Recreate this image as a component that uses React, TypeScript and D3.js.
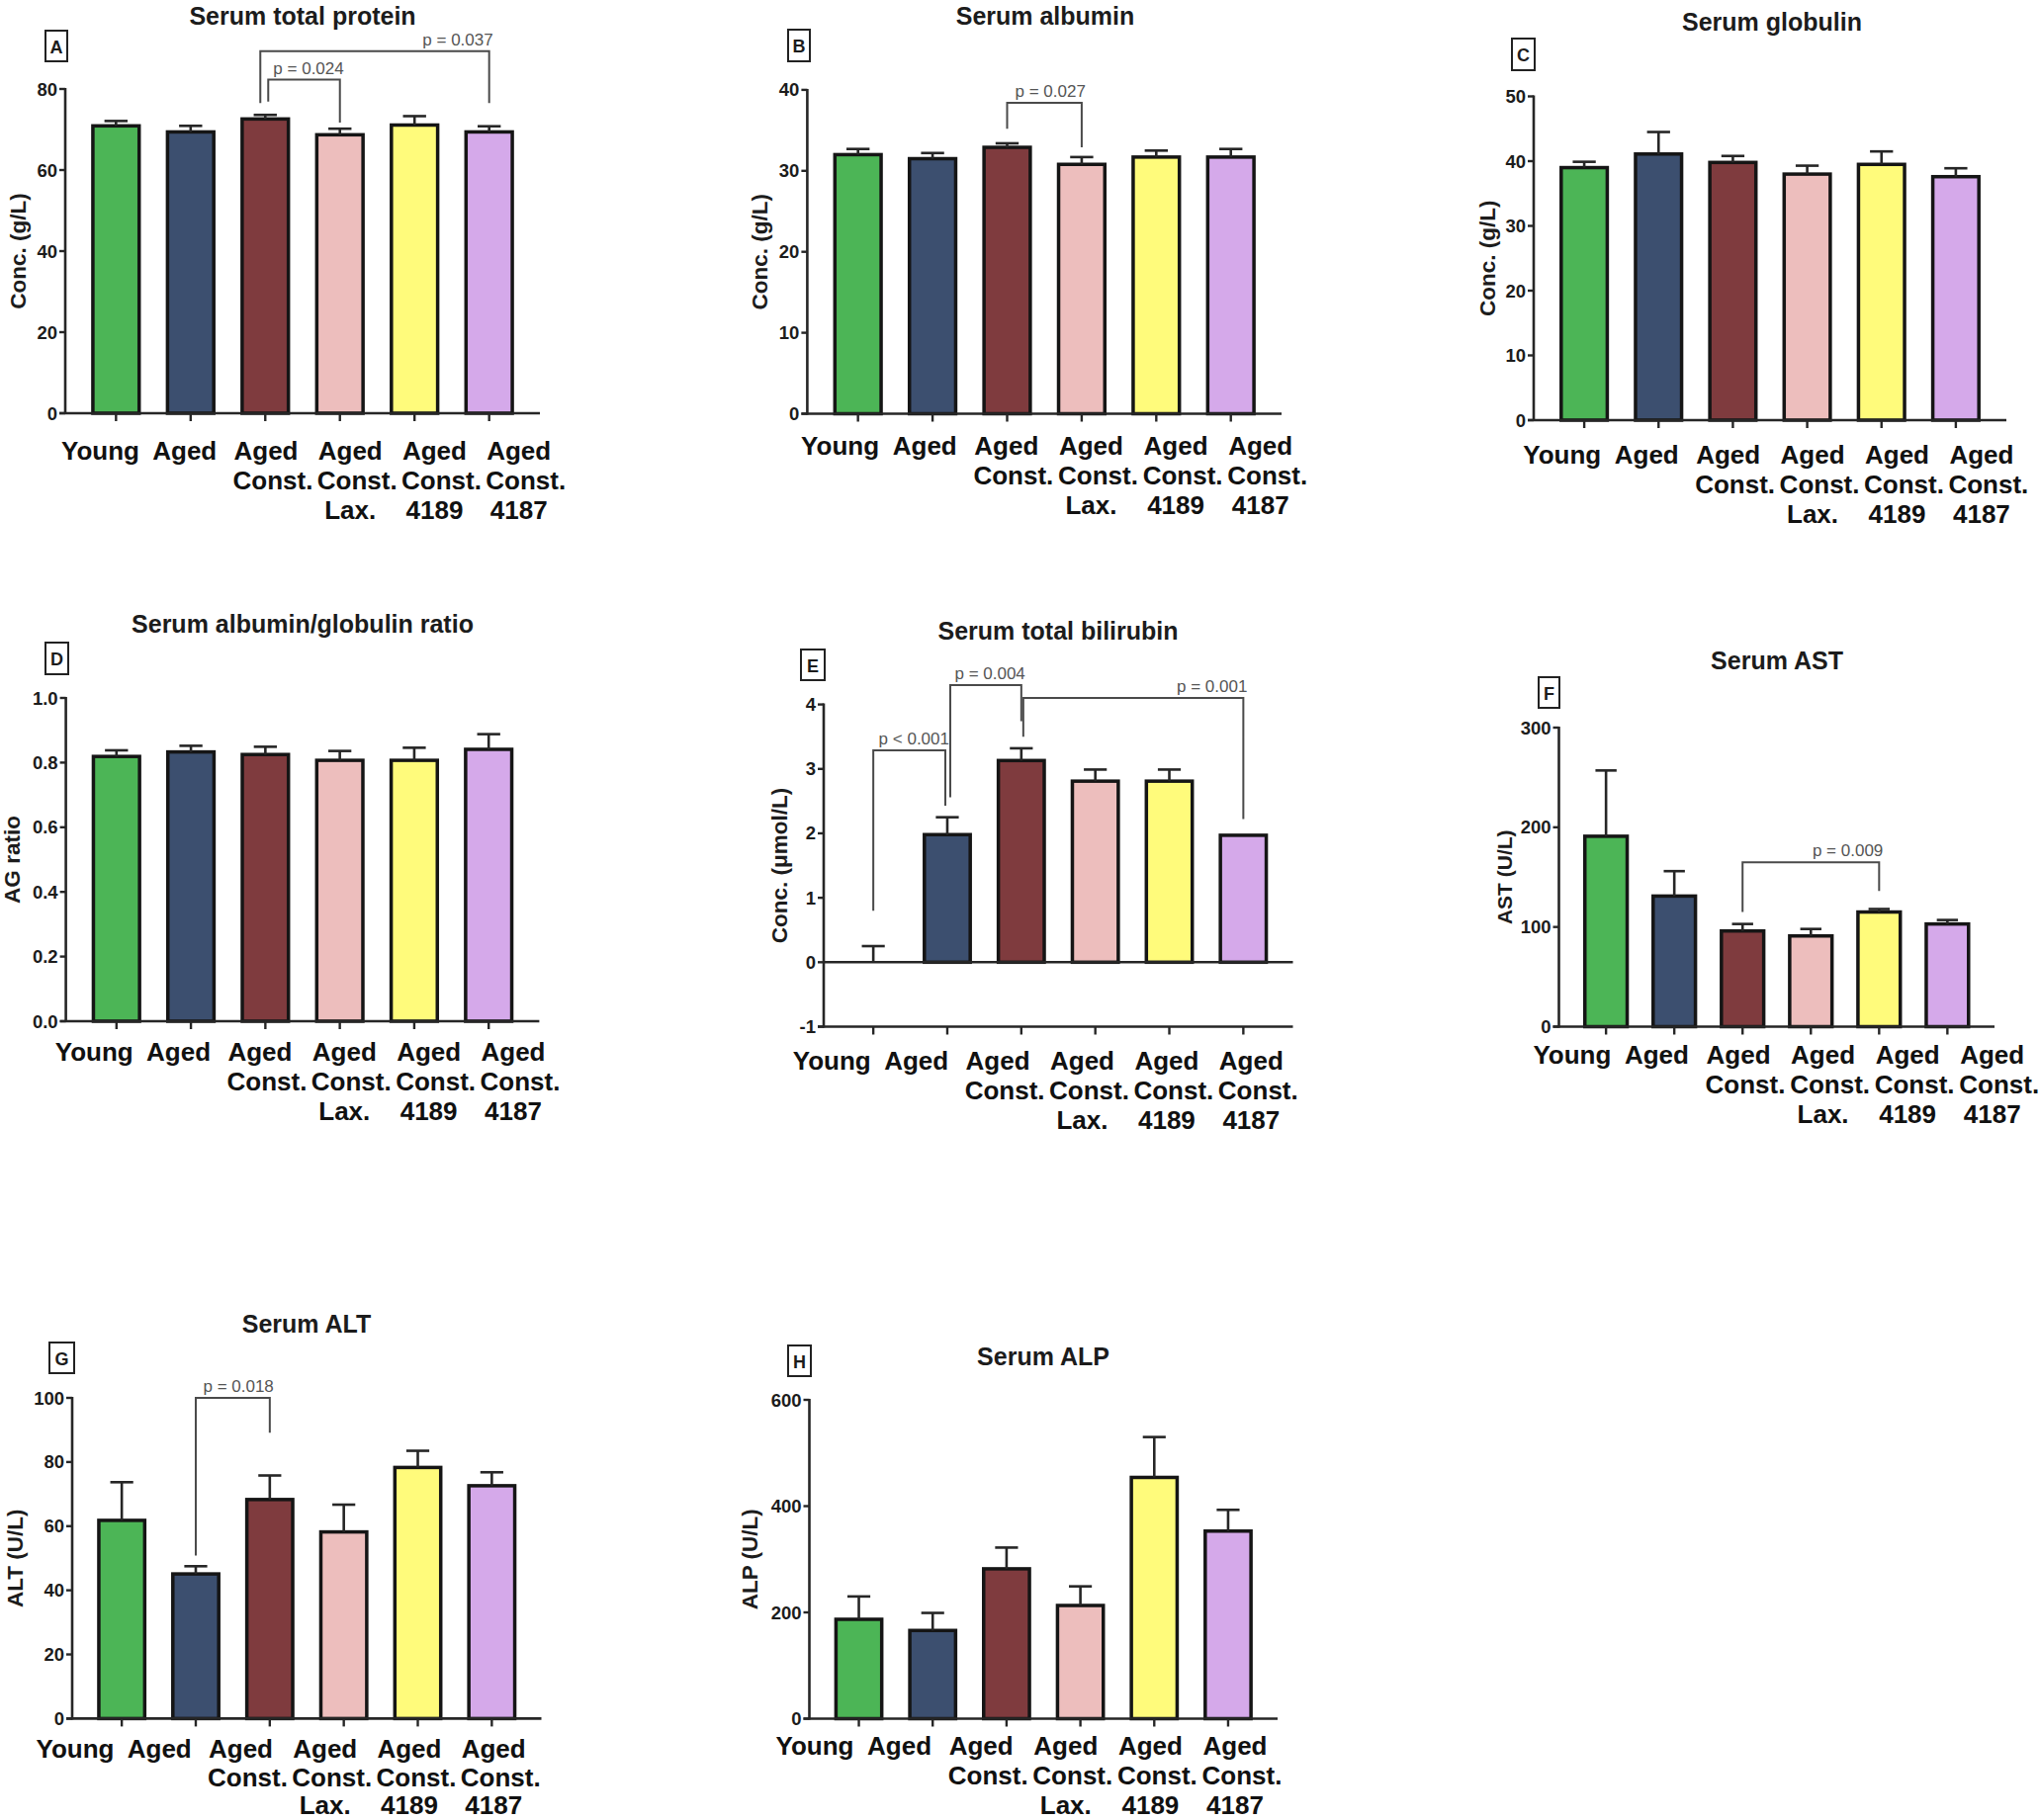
import React from 'react';
import * as d3 from 'd3';

// ---------- data ----------
const categories = ['Young', 'Aged', 'Aged Const.', 'Aged Const. Lax.', 'Aged Const. 4189', 'Aged Const. 4187'];
const categoryLines = [['Young'], ['Aged'], ['Aged', 'Const.'], ['Aged', 'Const.', 'Lax.'], ['Aged', 'Const.', '4189'], ['Aged', 'Const.', '4187']];
const barColors = ['#4cb556', '#3c4f6f', '#7f3b3e', '#edbebd', '#fffb7b', '#d5a9ea'];

const totalProteinMean = [70.9, 69.4, 72.6, 68.7, 71.1, 69.4];
const totalProteinSem = [1.2, 1.5, 1.0, 1.5, 2.2, 1.4];
const albuminMean = [32.0, 31.5, 32.9, 30.8, 31.7, 31.7];
const albuminSem = [0.7, 0.7, 0.5, 0.9, 0.8, 1.0];
const globulinMean = [39.0, 41.1, 39.8, 38.0, 39.5, 37.6];
const globulinSem = [0.9, 3.4, 1.0, 1.3, 2.0, 1.3];
const agRatioMean = [0.819, 0.833, 0.825, 0.807, 0.807, 0.841];
const agRatioSem = [0.019, 0.019, 0.024, 0.029, 0.039, 0.047];
const bilirubinMean = [0, 1.98, 3.13, 2.81, 2.81, 1.97];
const bilirubinSem = [0.25, 0.27, 0.19, 0.18, 0.18, 0];
const astMean = [191, 131, 96, 91, 115, 103];
const astSem = [66, 25, 7, 7, 3, 4];
const altMean = [61.8, 45.1, 68.3, 58.2, 78.3, 72.6];
const altSem = [11.9, 2.4, 7.5, 8.5, 5.2, 4.2];
const alpMean = [187, 166, 282, 213, 454, 353];
const alpSem = [43, 33, 40, 36, 76, 40];

const ticksProtein = [0, 20, 40, 60, 80];
const ticksAlbumin = [0, 10, 20, 30, 40];
const ticksGlobulin = [0, 10, 20, 30, 40, 50];
const ticksRatio = [0, 0.2, 0.4, 0.6, 0.8, 1.0];
const ticksBilirubin = [-1, 0, 1, 2, 3, 4];
const ticksAst = [0, 100, 200, 300];
const ticksAlt = [0, 20, 40, 60, 80, 100];
const ticksAlp = [0, 200, 400, 600];

type Bracket = { a: number; b: number; top: number; aEnd: number; bEnd: number; text: string; da?: number; db?: number };

const bracketsProtein: Bracket[] = [
  { a: 2, b: 3, top: 82.3, aEnd: 76.9, bEnd: 71.7, text: 'p = 0.024', da: 3 },
  { a: 2, b: 5, top: 89.3, aEnd: 76.5, bEnd: 76.5, text: 'p = 0.037', da: -5 },
];
const bracketsAlbumin: Bracket[] = [{ a: 2, b: 3, top: 38.4, aEnd: 35.2, bEnd: 32.9, text: 'p = 0.027' }];
const bracketsBilirubin: Bracket[] = [
  { a: 0, b: 1, top: 3.29, aEnd: 0.8, bEnd: 2.43, text: 'p < 0.001', db: -2 },
  { a: 1, b: 2, top: 4.3, aEnd: 2.56, bEnd: 3.74, text: 'p = 0.004', da: 3 },
  { a: 2, b: 5, top: 4.1, aEnd: 3.5, bEnd: 2.22, text: 'p = 0.001', da: 2 },
];
const bracketsAst: Bracket[] = [{ a: 2, b: 4, top: 165, aEnd: 115, bEnd: 136, text: 'p = 0.009' }];
const bracketsAlt: Bracket[] = [{ a: 1, b: 2, top: 100, aEnd: 50.8, bEnd: 89.1, text: 'p = 0.018' }];

// ---------- layout ----------
const FONT = '"Liberation Sans", Arial, Helvetica, sans-serif';

type PanelSpec = {
  letter: string; title: string; ylabel: string;
  mean: number[]; sem: number[]; domain: [number, number]; ticks: number[]; fmt: (v: number) => string;
  brackets: Bracket[];
  x0: number; x1: number; yTop: number; yBot: number; pad: number;
  titleX: number; titleY: number; box: [number, number, number, number];
  ylabelX: number; labelX0: number; labelX1: number; labelY: number; lineGap?: number; ylabelSize?: number;
};

const fInt = (v: number) => String(Math.round(v));
const fOne = d3.format('.1f');

const panels: PanelSpec[] = [
  { letter: 'A', title: 'Serum total protein', ylabel: 'Conc. (g/L)', mean: totalProteinMean, sem: totalProteinSem, domain: [0, 80], ticks: ticksProtein, fmt: fInt, brackets: bracketsProtein,
    x0: 66, x1: 546, yTop: 90, yBot: 418, pad: 0.68, titleX: 306, titleY: 15.5, box: [46, 31, 22, 31], ylabelX: 18.5, labelX0: 101.5, labelX1: 527.7, labelY: 456 },
  { letter: 'B', title: 'Serum albumin', ylabel: 'Conc. (g/L)', mean: albuminMean, sem: albuminSem, domain: [0, 40], ticks: ticksAlbumin, fmt: fInt, brackets: bracketsAlbumin,
    x0: 816.4, x1: 1296, yTop: 90.9, yBot: 418.5, pad: 0.68, titleX: 1057, titleY: 15.5, box: [797, 30, 22, 32], ylabelX: 768.5, labelX0: 849.6, labelX1: 1277.7, labelY: 451 },
  { letter: 'C', title: 'Serum globulin', ylabel: 'Conc. (g/L)', mean: globulinMean, sem: globulinSem, domain: [0, 50], ticks: ticksGlobulin, fmt: fInt, brackets: [],
    x0: 1551, x1: 2029, yTop: 97.5, yBot: 425, pad: 0.68, titleX: 1792, titleY: 21.5, box: [1529, 39, 23, 32], ylabelX: 1504, labelX0: 1579.8, labelX1: 2006.9, labelY: 460 },
  { letter: 'D', title: 'Serum albumin/globulin ratio', ylabel: 'AG ratio', mean: agRatioMean, sem: agRatioSem, domain: [0, 1], ticks: ticksRatio, fmt: fOne, brackets: [],
    x0: 66.6, x1: 545.4, yTop: 706, yBot: 1033, pad: 0.68, titleX: 306, titleY: 630.5, box: [46, 650, 23, 32], ylabelX: 12.5, labelX0: 95.2, labelX1: 522, labelY: 1064 },
  { letter: 'E', title: 'Serum total bilirubin', ylabel: 'Conc. (\u03bcmol/L)', mean: bilirubinMean, sem: bilirubinSem, domain: [-1, 4], ticks: ticksBilirubin, fmt: fInt, brackets: bracketsBilirubin,
    x0: 833, x1: 1307.5, yTop: 712.6, yBot: 1038.5, pad: 0.67, titleX: 1070, titleY: 638, box: [810, 657, 24, 31], ylabelX: 788.6, labelX0: 841.3, labelX1: 1268.3, labelY: 1073 },
  { letter: 'F', title: 'Serum AST', ylabel: 'AST (U/L)', mean: astMean, sem: astSem, domain: [0, 300], ticks: ticksAst, fmt: fInt, brackets: bracketsAst,
    x0: 1576.5, x1: 2017, yTop: 736, yBot: 1038.5, pad: 0.69, titleX: 1797, titleY: 668, box: [1556, 685, 21, 31], ylabelX: 1521.5, labelX0: 1589.9, labelX1: 2017.7, labelY: 1066.5, ylabelSize: 21 },
  { letter: 'G', title: 'Serum ALT', ylabel: 'ALT (U/L)', mean: altMean, sem: altSem, domain: [0, 100], ticks: ticksAlt, fmt: fInt, brackets: bracketsAlt,
    x0: 73, x1: 547.5, yTop: 1414, yBot: 1738.4, pad: 0.67, titleX: 310, titleY: 1339, box: [50, 1358, 25, 31], ylabelX: 15, labelX0: 76, labelX1: 502.2, labelY: 1769, lineGap: 28.5 },
  { letter: 'H', title: 'Serum ALP', ylabel: 'ALP (U/L)', mean: alpMean, sem: alpSem, domain: [0, 600], ticks: ticksAlp, fmt: fInt, brackets: [],
    x0: 818.5, x1: 1292, yTop: 1416, yBot: 1738.5, pad: 0.67, titleX: 1055, titleY: 1371.5, box: [797, 1361, 23, 31], ylabelX: 758.6, labelX0: 824, labelX1: 1252, labelY: 1766 },
];

const AXIS = '#262626';
const OUTLINE = '#151515';

function lineShift(lines: string[], ln: string) {
  if (lines.length < 2) return 0;
  return ln === 'Const.' ? 4 : -3;
}

function Panel({ s }: { s: PanelSpec }) {
  const y = d3.scaleLinear().domain(s.domain).range([s.yBot, s.yTop]);
  const x = d3.scalePoint<string>().domain(categories).range([s.x0, s.x1]).padding(s.pad);
  const lx = d3.scalePoint<string>().domain(categories).range([s.labelX0, s.labelX1]);
  const bw = x.step() * 0.62;
  const cw = bw * 0.5;
  const base = y(Math.max(0, s.domain[0]));
  const midY = (s.yTop + s.yBot) / 2;
  const [bx, by, bwid, bht] = s.box;
  const gap = s.lineGap || 30;
  return (
    <g>
      <text x={s.titleX} y={s.titleY} textAnchor="middle" dominantBaseline="central" fontFamily={FONT} fontWeight="bold" fontSize={25} fill="#1c1c1c">{s.title}</text>
      <rect x={bx} y={by} width={bwid} height={bht} fill="none" stroke="#222" strokeWidth={2} />
      <text x={bx + bwid / 2} y={by + bht / 2 + 1} textAnchor="middle" dominantBaseline="central" fontFamily={FONT} fontWeight="bold" fontSize={18} fill="#1c1c1c">{s.letter}</text>
      <text transform={`translate(${s.ylabelX},${midY}) rotate(-90)`} textAnchor="middle" dominantBaseline="central" fontFamily={FONT} fontWeight="bold" fontSize={s.ylabelSize || 22.5} fill="#1c1c1c">{s.ylabel}</text>
      {/* bars */}
      {categories.map((c, i) => {
        const v = s.mean[i];
        if (v === 0) return null;
        const top = y(v);
        return <rect key={c} x={x(c)! - bw / 2} y={top} width={bw} height={base - top} fill={barColors[i]} stroke={OUTLINE} strokeWidth={3.5} />;
      })}
      {/* error bars */}
      {categories.map((c, i) => {
        if (!s.sem[i]) return null;
        const cx = x(c)!;
        const y1 = y(s.mean[i]);
        const y2 = y(s.mean[i] + s.sem[i]);
        return (
          <g key={c} stroke={AXIS} strokeWidth={2.6}>
            <line x1={cx} x2={cx} y1={y1} y2={y2} />
            <line x1={cx - cw / 2} x2={cx + cw / 2} y1={y2} y2={y2} />
          </g>
        );
      })}
      {/* axes */}
      <line x1={s.x0} x2={s.x0} y1={s.yTop - 1} y2={s.yBot + 1} stroke={AXIS} strokeWidth={2.6} />
      <line x1={s.x0 - 6} x2={s.x1} y1={s.yBot} y2={s.yBot} stroke={AXIS} strokeWidth={2.6} />
      {s.domain[0] < 0 && <line x1={s.x0} x2={s.x1} y1={y(0)} y2={y(0)} stroke={AXIS} strokeWidth={2.6} />}
      {s.ticks.map(t => (
        <g key={t}>
          <line x1={s.x0 - 6} x2={s.x0} y1={y(t)} y2={y(t)} stroke={AXIS} strokeWidth={2.4} />
          <text x={s.x0 - 8} y={y(t)} textAnchor="end" dominantBaseline="central" fontFamily={FONT} fontWeight="bold" fontSize={18.5} fill="#1c1c1c">{s.fmt(t)}</text>
        </g>
      ))}
      {categories.map(c => (
        <line key={c} x1={x(c)} x2={x(c)} y1={s.yBot} y2={s.yBot + 8} stroke={AXIS} strokeWidth={2.4} />
      ))}
      {/* category labels */}
      {categories.map((c, i) => (
        <text key={c} fontFamily={FONT} fontWeight="bold" fontSize={26} fill="#111" textAnchor="middle">
          {categoryLines[i].map((ln, j) => (
            <tspan key={j} x={lx(c)! + lineShift(categoryLines[i], ln)} y={s.labelY + j * gap} dominantBaseline="central">{ln}</tspan>
          ))}
        </text>
      ))}
      {/* significance brackets */}
      {s.brackets.map((b, k) => {
        const xa = x(categories[b.a])! + (b.da || 0);
        const xb = x(categories[b.b])! + (b.db || 0);
        const d = `M${xa},${y(b.aEnd)}V${y(b.top)}H${xb}V${y(b.bEnd)}`;
        return (
          <g key={k}>
            <path d={d} fill="none" stroke="#4a4a4a" strokeWidth={2} />
            <text x={xb + 4} y={y(b.top) - 6} textAnchor="end" fontFamily={FONT} fontSize={17} fill="#555">{b.text}</text>
          </g>
        );
      })}
    </g>
  );
}

export default function App() {
  return (
    <svg width={2062} height={1841} style={{ position: 'absolute', left: 0, top: 0, background: '#fff' }}>
      <rect width={2062} height={1841} fill="#fff" />
      {panels.map(p => <Panel key={p.letter} s={p} />)}
    </svg>
  );
}
